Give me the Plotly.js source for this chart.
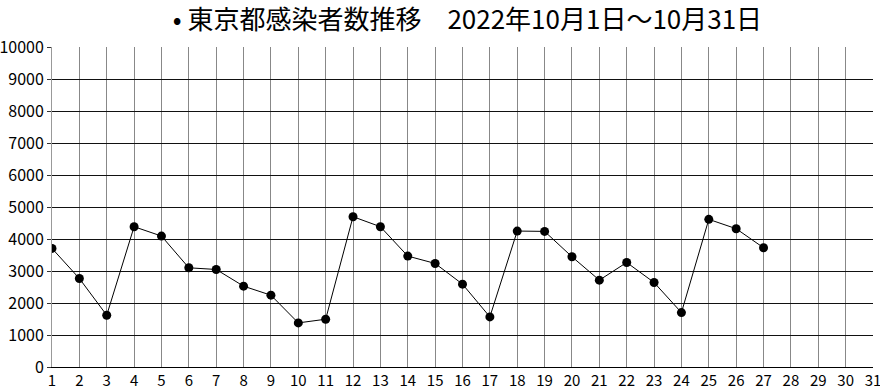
<!DOCTYPE html>
<html>
<head>
<meta charset="utf-8">
<script src="https://cdn.plot.ly/plotly-3.0.1.min.js"></script>
<style>html,body{margin:0;padding:0;background:#fff;}#chart{width:880px;height:390px;}</style>
</head>
<body>
<div id="chart"></div>
<script>
const days = [1,2,3,4,5,6,7,8,9,10,11,12,13,14,15,16,17,18,19,20,21,22,23,24,25,26,27];
const cases = [3706,2766,1618,4384,4092,3100,3048,2526,2244,1378,1493,4697,4384,3466,3236,2589,1566,4248,4238,3445,2714,3267,2641,1701,4614,4322,3727];
const xTicks = [1,2,3,4,5,6,7,8,9,10,11,12,13,14,15,16,17,18,19,20,21,22,23,24,25,26,27,28,29,30,31];
const yTicks = [0,1000,2000,3000,4000,5000,6000,7000,8000,9000,10000];
const titleText = "• 東京都感染者数推移　2022年10月1日～10月31日";

const tickFamily = '"Noto Sans CJK JP", sans-serif';

const trace = {
  x: days, y: cases, type: 'scatter', mode: 'lines+markers',
  line: {color: '#000', width: 1},
  marker: {color: '#000', size: 9},
  hoverinfo: 'skip'
};

const layout = {
  width: 880, height: 390,
  margin: {l: 52, r: 7, t: 47, b: 23},
  paper_bgcolor: '#fff', plot_bgcolor: '#fff',
  showlegend: false,
  title: {
    text: titleText,
    font: {family: '"Noto Sans CJK JP", sans-serif', size: 26, color: '#000'},
    x: 0.506, xanchor: 'center', xref: 'paper',
    y: 1 - 20/390, yref: 'container', yanchor: 'middle'
  },
  xaxis: {
    range: [1, 31], tickvals: xTicks, ticktext: xTicks.map(String),
    showgrid: true, gridcolor: '#888', gridwidth: 1,
    zeroline: false, showline: true, linecolor: '#000', linewidth: 1,
    ticks: '', tickfont: {family: tickFamily, size: 15, color: '#000'},
    ticklabeloverflow: 'allow',
    fixedrange: true
  },
  yaxis: {
    range: [0, 10000], tickvals: yTicks, ticktext: yTicks.map(String),
    showgrid: true, gridcolor: '#111', gridwidth: 1,
    zeroline: false, showline: true, linecolor: '#999', linewidth: 1,
    ticks: 'outside', ticklen: 4, tickcolor: '#333',
    tickfont: {family: tickFamily, size: 16, color: '#000'},
    fixedrange: true
  }
};

Plotly.newPlot('chart', [trace], layout, {staticPlot: true, displayModeBar: false});
</script>
</body>
</html>
